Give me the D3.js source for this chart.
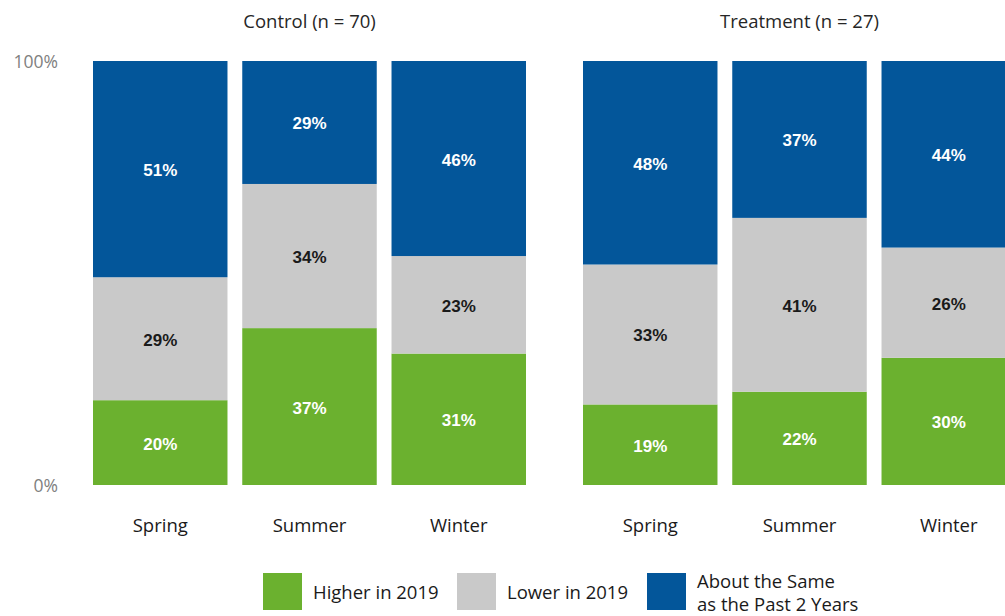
<!DOCTYPE html>
<html>
<head>
<meta charset="utf-8">
<script src="https://cdn.jsdelivr.net/npm/d3@7"></script>
<style>
  html, body { margin: 0; padding: 0; background: #fff; }
  svg { display: block; }
</style>
</head>
<body>
<svg id="chart" width="1005" height="616"></svg>
<script>
// Seasons shown in each panel
const seasons = ["Spring", "Summer", "Winter"];

// Panel titles
const groups = ["Control (n = 70)", "Treatment (n = 27)"];

// Response categories, bottom to top
const responses = ["Higher in 2019", "Lower in 2019", "About the Same as the Past 2 Years"];

// Percent of respondents per season, one array per response
const controlHigher = [20, 37, 31];
const controlLower  = [29, 34, 23];
const controlSame   = [51, 29, 46];

const treatmentHigher = [19, 22, 30];
const treatmentLower  = [33, 41, 26];
const treatmentSame   = [48, 37, 44];

// Y-axis tick labels
const yTicks = [0, 100];

const colors = {
  "Higher in 2019": "#6BB12F",
  "Lower in 2019": "#C9C9C9",
  "About the Same as the Past 2 Years": "#03569A"
};
const labelColors = {
  "Higher in 2019": "#FFFFFF",
  "Lower in 2019": "#1A1A1A",
  "About the Same as the Past 2 Years": "#FFFFFF"
};

const panelData = [
  { title: groups[0], series: [controlHigher, controlLower, controlSame], range: [93, 526] },
  { title: groups[1], series: [treatmentHigher, treatmentLower, treatmentSame], range: [583, 1016] }
];

const svg = d3.select("#chart");
const uiFont = "'Open Sans', Lato, sans-serif";
const valueFont = "'Liberation Sans', Arial, sans-serif";

const y = d3.scaleLinear().domain([0, 100]).range([485, 61]);

// Y axis labels
svg.append("g")
  .selectAll("text")
  .data(yTicks)
  .join("text")
  .attr("x", 58)
  .attr("y", d => y(d) + 7)
  .attr("text-anchor", "end")
  .attr("font-family", uiFont)
  .attr("font-size", 17.5)
  .attr("fill", "#808080")
  .text(d => d + "%");

panelData.forEach(panel => {
  const x = d3.scaleBand().domain(seasons).range(panel.range).paddingInner(0.099);

  // Stack the three responses for each season
  const rows = seasons.map((s, i) => {
    const row = { season: s };
    responses.forEach((r, k) => { row[r] = panel.series[k][i]; });
    return row;
  });
  const stacked = d3.stack().keys(responses)(rows);

  const g = svg.append("g");

  const layers = g.selectAll("g.layer")
    .data(stacked)
    .join("g")
    .attr("class", "layer");

  layers.selectAll("rect")
    .data(d => d.map(v => ({ key: d.key, v })))
    .join("rect")
    .attr("x", d => x(d.v.data.season))
    .attr("width", x.bandwidth())
    .attr("y", d => y(d.v[1]))
    .attr("height", d => y(d.v[0]) - y(d.v[1]))
    .attr("fill", d => colors[d.key]);

  layers.selectAll("text")
    .data(d => d.map(v => ({ key: d.key, v })))
    .join("text")
    .attr("x", d => x(d.v.data.season) + x.bandwidth() / 2)
    .attr("y", d => (y(d.v[0]) + y(d.v[1])) / 2 + 7)
    .attr("text-anchor", "middle")
    .attr("font-family", valueFont)
    .attr("font-weight", "bold")
    .attr("font-size", 17)
    .attr("fill", d => labelColors[d.key])
    .text(d => (d.v[1] - d.v[0]) + "%");

  // Season labels under the bars
  g.selectAll("text.season")
    .data(seasons)
    .join("text")
    .attr("class", "season")
    .attr("x", d => x(d) + x.bandwidth() / 2)
    .attr("y", 532)
    .attr("text-anchor", "middle")
    .attr("font-family", uiFont)
    .attr("font-size", 18.5)
    .attr("fill", "#1A1A1A")
    .text(d => d);

  // Panel title centred over the middle bar
  g.append("text")
    .attr("x", x(seasons[1]) + x.bandwidth() / 2)
    .attr("y", 27.5)
    .attr("text-anchor", "middle")
    .attr("font-family", uiFont)
    .attr("font-size", 18.5)
    .attr("fill", "#262626")
    .text(panel.title);
});

// Legend
const legendItems = [
  { key: responses[0], x: 263, lines: ["Higher in 2019"] },
  { key: responses[1], x: 457, lines: ["Lower in 2019"] },
  { key: responses[2], x: 647, lines: ["About the Same", "as the Past 2 Years"] }
];
const legend = svg.append("g");
const li = legend.selectAll("g")
  .data(legendItems)
  .join("g")
  .attr("transform", d => `translate(${d.x},573)`);
li.append("rect")
  .attr("width", 39)
  .attr("height", 37)
  .attr("fill", d => colors[d.key]);
li.append("text")
  .attr("font-family", uiFont)
  .attr("font-size", 18.5)
  .attr("fill", "#1A1A1A")
  .selectAll("tspan")
  .data(d => d.lines.map((t, i) => ({ t, i, n: d.lines.length })))
  .join("tspan")
  .attr("x", 50)
  .attr("y", d => d.n === 1 ? 26 : 15 + d.i * 23)
  .text(d => d.t);
</script>
</body>
</html>
